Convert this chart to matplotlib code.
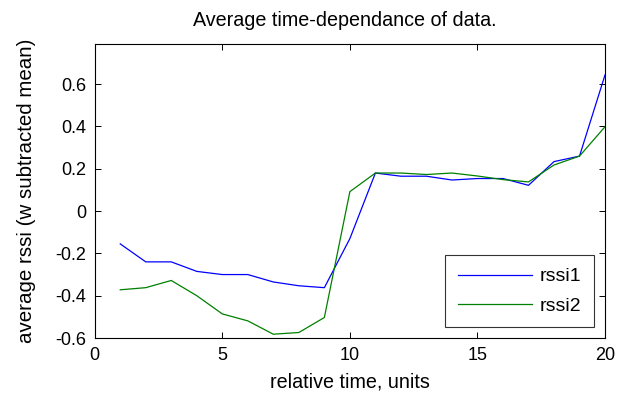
import matplotlib
matplotlib.use("Agg")
import matplotlib.pyplot as plt

x = list(range(1, 21))
rssi1 = [-0.155, -0.24, -0.24, -0.285, -0.30, -0.30, -0.335, -0.353, -0.362, -0.13,
         0.18, 0.165, 0.165, 0.147, 0.154, 0.154, 0.122, 0.234, 0.26, 0.644]
rssi2 = [-0.372, -0.362, -0.328, -0.40, -0.486, -0.519, -0.582, -0.574, -0.503, 0.092,
         0.18, 0.18, 0.173, 0.18, 0.166, 0.149, 0.138, 0.218, 0.26, 0.399]
xticks = [0, 5, 10, 15, 20]
yticks = [-0.6, -0.4, -0.2, 0, 0.2, 0.4, 0.6]
yticklabels = ["-0.6", "-0.4", "-0.2", "0", "0.2", "0.4", "0.6"]

TFS = 13
LFS = 14.2
plt.rcParams['font.family'] = ['Liberation Sans', 'DejaVu Sans']
fig = plt.figure(figsize=(6.26, 3.94), dpi=100)
ax = fig.add_axes([0.1513, 0.1421, 0.8152, 0.7462])
ax.plot(x, rssi1, color=(0, 0, 1), lw=0.9, label="rssi1")
ax.plot(x, rssi2, color=(0, 0.5, 0), lw=0.9, label="rssi2")
ax.set_xlim(0, 20)
ax.set_ylim(-0.6, 0.79)
ax.set_xticks(xticks)
ax.set_yticks(yticks)
ax.set_yticklabels(yticklabels)
ax.tick_params(direction='in', top=True, right=True, labelsize=TFS, length=4, width=0.7)
ax.tick_params(axis='y', pad=6)
ax.tick_params(axis='x', pad=6.5)
for s in ax.spines.values():
    s.set_linewidth(0.8)
ax.set_xlabel("relative time, units", fontsize=LFS, labelpad=6)
ax.set_ylabel("average rssi (w subtracted mean)", fontsize=14.8, labelpad=14)
ax.set_title("Average time-dependance of data.", fontsize=LFS, pad=13, x=0.49)
leg = ax.legend(loc='lower right', fontsize=14, fancybox=False, edgecolor='black',
                handlelength=3.8, borderaxespad=0.55, labelspacing=0.6, borderpad=0.65,
                handletextpad=0.42)
leg.get_frame().set_linewidth(0.8)
fig.savefig("out.png", dpi=100)
